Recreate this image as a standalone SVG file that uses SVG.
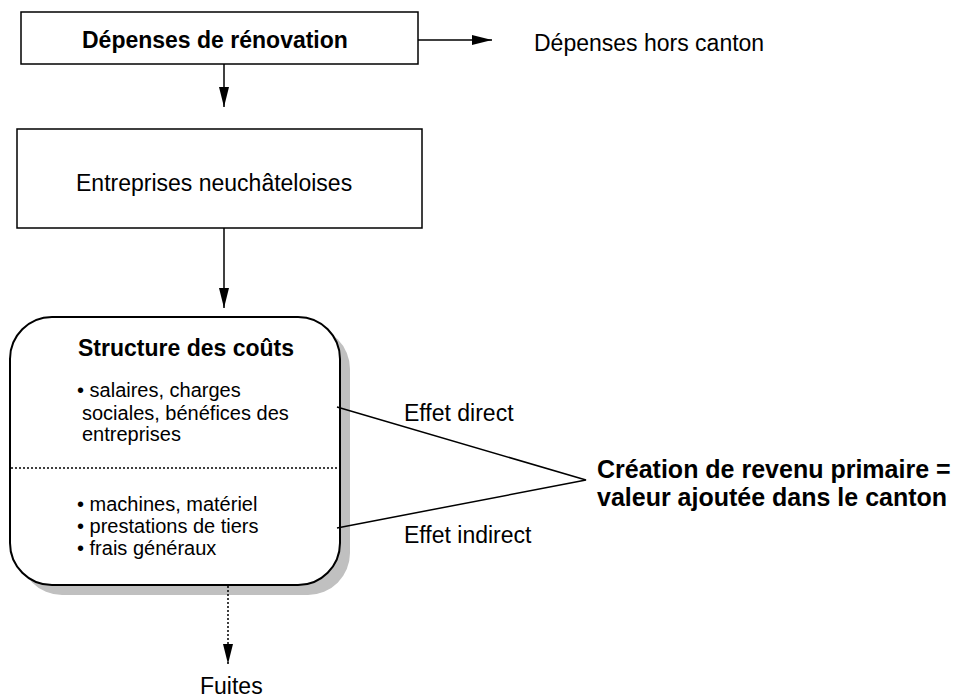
<svg xmlns="http://www.w3.org/2000/svg" width="953" height="698" viewBox="0 0 953 698">
<style>
text{font-family:"Liberation Sans",Arial,Helvetica,sans-serif;fill:#000}
.t{font-size:23px}
.b{font-size:23px;font-weight:bold}
.bl{font-size:25px;font-weight:bold}
.s{font-size:20px}
.box{fill:#fff;stroke:#000;stroke-width:1.5}
.ln{stroke:#000;stroke-width:1.5;fill:none}
.dot{stroke:#000;stroke-width:1.5;fill:none;stroke-dasharray:2 2}
</style>
<defs>
<marker id="ah" markerWidth="20" markerHeight="10" refX="20" refY="5" orient="auto" markerUnits="userSpaceOnUse">
<path d="M0,0 L20,5 L0,10 Z" fill="#000"/>
</marker>
</defs>
<g id="n-depenses">
<rect class="box" x="21" y="12" width="397" height="52"/>
<text class="b" x="82" y="48">Dépenses de rénovation</text>
</g>
<g id="n-hors">
<text class="t" x="534" y="51">Dépenses hors canton</text>
</g>
<g id="n-entreprises">
<rect class="box" x="17" y="129" width="405" height="99"/>
<text class="t" x="76" y="191">Entreprises neuchâteloises</text>
</g>
<g id="n-structure">
<rect x="20" y="327" width="330" height="268" rx="42" ry="42" fill="#c0c0c0"/>
<rect x="10" y="317" width="330" height="268" rx="42" ry="42" fill="#fff" stroke="#000" stroke-width="2"/>
<line class="dot" x1="11" y1="468" x2="339" y2="468"/>
<text class="b" x="78" y="356">Structure des coûts</text>
<text class="s"><tspan x="77" y="397">• salaires, charges</tspan><tspan x="82" y="420">sociales, bénéfices des</tspan><tspan x="82" y="441">entreprises</tspan></text>
<text class="s"><tspan x="77" y="511">• machines, matériel</tspan><tspan x="77" y="533">• prestations de tiers</tspan><tspan x="77" y="555">• frais généraux</tspan></text>
</g>
<g id="n-creation">
<text class="bl"><tspan x="597" y="478">Création de revenu primaire =</tspan><tspan x="597" y="506">valeur ajoutée dans le canton</tspan></text>
</g>
<g id="n-fuites">
<text class="t" x="200" y="694">Fuites</text>
</g>
<g id="connectors">
<line class="ln" x1="418" y1="40" x2="492" y2="40" marker-end="url(#ah)"/>
<line class="ln" x1="224" y1="64" x2="224" y2="107" marker-end="url(#ah)"/>
<line class="ln" x1="224" y1="228" x2="224" y2="308" marker-end="url(#ah)"/>
<line class="dot" x1="228" y1="586" x2="228" y2="664" marker-end="url(#ah)"/>
<polyline class="ln" points="337,407 586,480 337,528"/>
<text class="t" x="404" y="421">Effet direct</text>
<text class="t" x="404" y="543">Effet indirect</text>
</g>
</svg>
